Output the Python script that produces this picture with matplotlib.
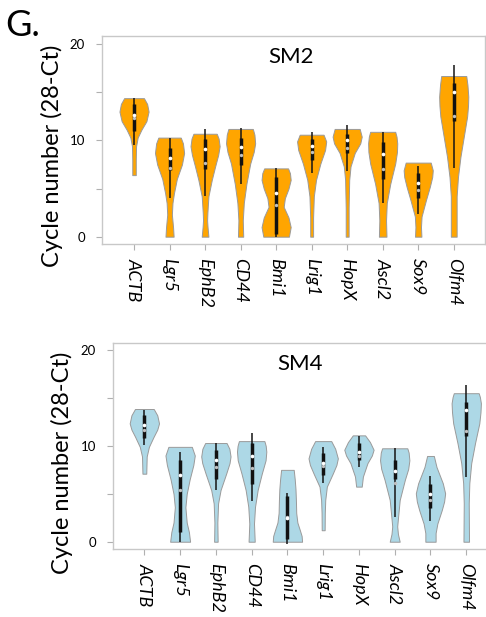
import matplotlib
matplotlib.use("Agg")
import matplotlib.pyplot as plt
import numpy as np

plt.rcParams['font.family'] = ['Lato', 'DejaVu Sans']

genes = ["ACTB", "Lgr5", "EphB2", "CD44", "Bmi1", "Lrig1", "HopX", "Ascl2", "Sox9", "Olfm4"]

# Violin outlines: (value, relative half-width)
sm2_profiles = [
    [(6.4, 0.12), (8.0, 0.12), (9.4, 0.14), (10.3, 0.25), (11.1, 0.5), (12.0, 0.85), (13.0, 1.0), (13.8, 0.9), (14.4, 0.68)],
    [(0, 0.28), (1.0, 0.24), (2.3, 0.16), (3.5, 0.2), (4.5, 0.3), (6.0, 0.5), (7.5, 0.85), (8.7, 1.0), (9.7, 0.92), (10.3, 0.77)],
    [(0, 0.23), (1.0, 0.17), (1.7, 0.14), (2.5, 0.16), (4.2, 0.23), (5.9, 0.46), (7.3, 0.69), (8.5, 0.9), (9.4, 1.0), (10.2, 0.93), (10.7, 0.8)],
    [(0, 0.18), (1.7, 0.15), (3.5, 0.22), (5.5, 0.4), (7.6, 0.66), (8.8, 0.9), (9.7, 1.0), (10.6, 0.95), (11.2, 0.84)],
    [(0, 0.88), (1.0, 1.0), (2.0, 0.85), (3.1, 0.52), (4.0, 0.6), (5.0, 0.85), (5.9, 1.0), (6.6, 0.95), (7.1, 0.82)],
    [(0, 0.1), (2.0, 0.1), (4.2, 0.15), (5.9, 0.3), (7.6, 0.6), (9.0, 0.92), (9.9, 1.0), (10.6, 0.82)],
    [(0, 0.1), (3.0, 0.1), (5.9, 0.14), (7.3, 0.23), (8.7, 0.52), (9.7, 0.9), (10.4, 1.0), (11.2, 0.86)],
    [(0, 0.26), (1.7, 0.23), (3.5, 0.28), (5.5, 0.52), (7.6, 0.86), (8.8, 0.98), (9.7, 1.0), (10.4, 0.95), (10.9, 0.86)],
    [(0, 0.22), (1.0, 0.19), (2.1, 0.23), (3.8, 0.53), (5.2, 0.8), (6.2, 0.96), (6.9, 1.0), (7.7, 0.86)],
    [(0, 0.2), (1.7, 0.2), (4.2, 0.2), (6.2, 0.29), (8.3, 0.46), (10.4, 0.69), (12.5, 0.92), (13.6, 0.98), (14.55, 1.0), (15.8, 0.94), (16.7, 0.86)],
]
sm2_whisk_lo = [9.5, 4.0, 4.2, 5.5, 0.0, 6.6, 6.8, 3.5, 2.4, 7.1]
sm2_whisk_hi = [14.4, 10.3, 11.2, 11.3, 7.1, 10.9, 11.6, 10.9, 7.3, 17.85]
sm2_q1 = [11.0, 6.9, 7.0, 7.5, 0.3, 8.0, 8.7, 6.0, 4.0, 12.0]
sm2_q3 = [13.8, 9.2, 10.2, 10.3, 6.2, 10.2, 10.7, 9.8, 6.6, 16.0]
sm2_median = [12.65, 8.15, 9.1, 9.35, 4.5, 9.4, 10.05, 8.6, 5.55, 15.0]
sm2_mean = [12.3, 7.1, 7.7, 8.5, 3.3, 8.8, 9.2, 7.0, 4.85, 12.5]

sm4_profiles = [
    [(7.1, 0.13), (8.9, 0.16), (9.9, 0.31), (10.95, 0.63), (11.7, 0.88), (12.35, 1.0), (13.2, 0.88), (13.85, 0.64)],
    [(0, 0.68), (1.0, 0.6), (2.0, 0.45), (3.6, 0.36), (5.0, 0.45), (6.5, 0.65), (8.0, 0.9), (9.0, 1.0), (9.9, 0.8)],
    [(0, 0.12), (2.0, 0.1), (4.0, 0.15), (5.4, 0.32), (7.1, 0.7), (8.2, 0.93), (8.9, 1.0), (9.7, 0.92), (10.3, 0.73)],
    [(0, 0.21), (1.9, 0.16), (3.65, 0.23), (5.4, 0.41), (7.1, 0.69), (8.5, 0.95), (9.4, 1.0), (10.0, 0.96), (10.5, 0.87)],
    [(0, 1.0), (0.6, 0.97), (1.2, 0.85), (2.0, 0.68), (3.0, 0.6), (4.3, 0.58), (5.5, 0.55), (6.5, 0.5), (7.5, 0.43)],
    [(1.2, 0.1), (3.0, 0.11), (4.35, 0.14), (5.75, 0.25), (7.1, 0.65), (8.0, 0.9), (8.7, 1.0), (9.7, 0.82), (10.5, 0.55)],
    [(5.75, 0.19), (6.8, 0.27), (8.2, 0.58), (9.0, 0.88), (9.6, 1.0), (10.4, 0.75), (11.1, 0.42)],
    [(0, 0.34), (0.8, 0.22), (1.6, 0.17), (2.6, 0.23), (4.35, 0.34), (6.45, 0.69), (7.6, 0.92), (8.5, 1.0), (9.3, 0.95), (9.75, 0.86)],
    [(0, 0.35), (0.9, 0.35), (1.9, 0.47), (3.3, 0.77), (4.2, 0.93), (5.05, 1.0), (6.1, 0.84), (7.8, 0.41), (8.95, 0.23)],
    [(0, 0.19), (2.0, 0.18), (4.0, 0.17), (6.1, 0.21), (8.2, 0.34), (10.3, 0.6), (12.35, 0.89), (13.5, 0.97), (14.45, 1.0), (15.1, 0.93), (15.5, 0.85)],
]
sm4_whisk_lo = [10.1, 0.0, 5.4, 4.2, -0.2, 6.1, 7.8, 2.6, 2.2, 6.8]
sm4_whisk_hi = [13.75, 9.4, 10.3, 11.3, 5.1, 9.85, 11.0, 9.75, 6.9, 16.35]
sm4_q1 = [10.8, 1.0, 6.5, 6.0, 0.3, 7.0, 8.5, 6.5, 3.5, 11.0]
sm4_q3 = [13.2, 8.5, 9.6, 10.3, 4.8, 9.3, 10.3, 8.5, 6.0, 14.6]
sm4_median = [12.2, 6.95, 8.5, 8.95, 2.5, 8.25, 9.4, 7.4, 4.95, 13.7]
sm4_mean = [11.65, 5.4, 7.8, 7.65, 2.6, 7.9, 8.95, 6.1, 4.4, 11.55]

W, H = 486, 617
fig = plt.figure(figsize=(W / 100, H / 100), dpi=100)


def px_axes(l, t, r, b):
    return fig.add_axes([l / W, 1 - b / H, (r - l) / W, (b - t) / H])


def panel(ax, profiles, wlo, whi, q1, q3, med, mean, color, title, xlim, ylim):
    pos = np.arange(len(genes))
    stats = []
    for p, prof in enumerate(profiles):
        ys = np.array([v for v, w in prof])
        ws = np.array([w for v, w in prof])
        stats.append(dict(coords=ys, vals=ws, mean=mean[p], median=med[p],
                          min=ys.min(), max=ys.max()))
    parts = ax.violin(stats, positions=pos, widths=0.82, showmeans=False,
                      showextrema=False, showmedians=False)
    for b in parts['bodies']:
        b.set_facecolor(color)
        b.set_edgecolor('#9a9a9a')
        b.set_linewidth(0.7)
        b.set_alpha(1)
    ax.vlines(pos, wlo, whi, color='#151515', lw=1.1, zorder=3)
    ax.vlines(pos, q1, q3, color='#111111', lw=2.5, zorder=3)
    ax.scatter(pos, mean, s=6, color='#c0c0c0', zorder=4, linewidths=0)
    ax.scatter(pos, med, s=7, color='white', zorder=5, linewidths=0)
    ax.set_xlim(*xlim)
    ax.set_ylim(*ylim)
    ax.set_xticks(pos)
    ax.set_xticklabels(genes, rotation=270, style='italic', fontsize=13,
                       ha='center', va='top')
    ax.set_yticks([0, 5, 10, 15, 20])
    ax.set_yticklabels(['0', '', '10', '', '20'], fontsize=9.5)
    for s in ax.spines.values():
        s.set_color('#c8c8c8')
        s.set_linewidth(1.0)
    ax.tick_params(axis='both', colors='#b0b0b0', length=4, width=0.8,
                   labelcolor='black')
    ax.tick_params(axis='y', pad=8)
    ax.tick_params(axis='x', pad=6)
    ax.text(0.493, 0.87, title, transform=ax.transAxes, ha='center',
            va='baseline', fontsize=16)


ax1 = px_axes(101.7, 36, 485, 244)
panel(ax1, sm2_profiles, sm2_whisk_lo, sm2_whisk_hi, sm2_q1, sm2_q3,
      sm2_median, sm2_mean, '#FFA500', 'SM2', (-0.91, 9.88), (-0.76, 20.86))

ax2 = px_axes(112.7, 342.7, 492, 549.3)
panel(ax2, sm4_profiles, sm4_whisk_lo, sm4_whisk_hi, sm4_q1, sm4_q3,
      sm4_median, sm4_mean, '#ADD8E6', 'SM4', (-0.885, 9.72), (-0.79, 20.77))

fig.text(52 / W, 1 - 156 / H, 'Cycle number (28-Ct)', rotation=90,
         ha='center', va='center', fontsize=17)
fig.text(62 / W, 1 - 463 / H, 'Cycle number (28-Ct)', rotation=90,
         ha='center', va='center', fontsize=17)
fig.text(5 / W, 1 - 36 / H, 'G.', ha='left', va='baseline', fontsize=26)

fig.savefig('out.png', dpi=100)
